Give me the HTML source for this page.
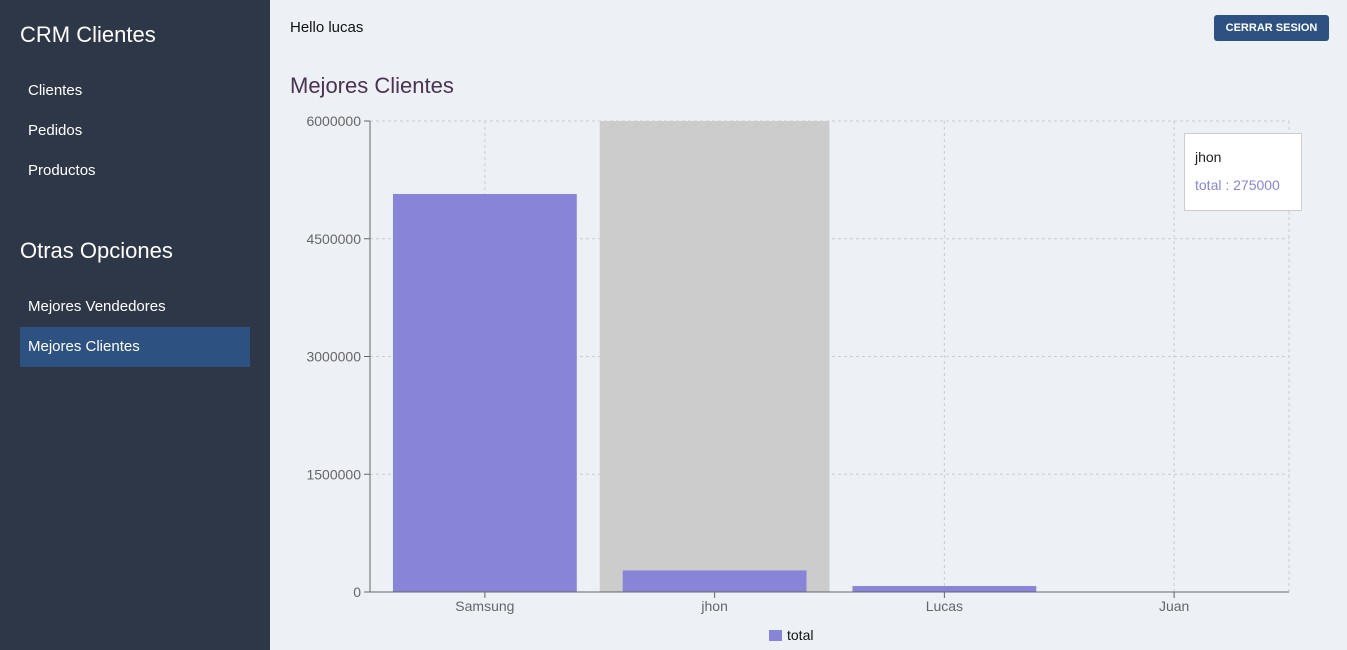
<!DOCTYPE html>
<html><head><meta charset="utf-8"><style>
body{margin:0;width:1347px;height:650px;overflow:hidden;font-family:"Liberation Sans",sans-serif;background:#edf1f6}
.side{position:absolute;left:0;top:0;width:270px;height:650px;background:#2e3748;color:#fff}
.side h2{font-weight:normal;font-size:22px;margin:0;position:absolute;left:20px}
.side a{position:absolute;left:20px;width:230px;height:40px;line-height:40px;padding-left:8px;box-sizing:border-box;font-size:15px;color:#fff}
.btn{position:absolute;left:1214px;top:15px;width:115px;height:26px;background:#2d5282;color:#fff;border-radius:3px;font-size:11px;font-weight:bold;text-align:center;line-height:26px}
</style></head><body>
<div class="side">
<h2 style="top:22px">CRM Clientes</h2>
<a style="top:71px">Clientes</a>
<a style="top:111px">Pedidos</a>
<a style="top:151px">Productos</a>
<h2 style="top:238px">Otras Opciones</h2>
<a style="top:287px">Mejores Vendedores</a>
<a style="top:327px;background:#2d5282">Mejores Clientes</a>
</div>
<div style="position:absolute;left:290px;top:19px;font-size:15px;color:#111">Hello lucas</div>
<div class="btn">CERRAR SESION</div>
<div style="position:absolute;left:290px;top:73px;font-size:22px;color:#4a3350">Mejores Clientes</div>
<svg id="c" width="1347" height="650" style="position:absolute;left:0;top:0"></svg>
<div style="position:absolute;left:1184px;top:133px;width:116px;height:76px;background:#fff;border:1px solid #ccc;font-size:14px">
<div style="position:absolute;left:10px;top:15px;color:#222">jhon</div>
<div style="position:absolute;left:10px;top:43px;color:#8884d8">total : 275000</div></div>
<script>
const categories=["Samsung","jhon","Lucas","Juan"];
const totals=[5070000,275000,76000,0];
const yTicks=[0,1500000,3000000,4500000,6000000];
const X0=370,X1=1289,Y0=592,Y1=121,YMAX=6000000;
const svg=document.getElementById('c'),NS='http://www.w3.org/2000/svg';
const bw=(X1-X0)/categories.length;
const y=v=>Y0-(v/YMAX)*(Y0-Y1);
const x=i=>X0+i*bw;
function mk(t,a){const e=document.createElementNS(NS,t);for(const k in a)e.setAttribute(k,a[k]);svg.appendChild(e);return e;}
yTicks.forEach(v=>{
 const g=mk('line',{x1:X0,x2:X1,y1:y(v),y2:y(v),stroke:'#ccc','stroke-dasharray':'3 3'});
 
 
 mk('line',{x1:X0-6,x2:X0,y1:y(v),y2:y(v),stroke:'#666'});
 const t=mk('text',{x:X0-9,y:y(v)+5,'text-anchor':'end','font-size':14,fill:'#666'});t.textContent=v;
 
 
});
categories.forEach((c,i)=>{
 const gx=mk('line',{x1:x(i)+bw/2,x2:x(i)+bw/2,y1:Y1,y2:Y0,stroke:'#ccc','stroke-dasharray':'3 3'});
 
 
});
mk('line',{x1:X1,x2:X1,y1:Y1,y2:Y0,stroke:'#ccc','stroke-dasharray':'3 3'});
const cur=mk('rect',{x:x(1),y:Y1,width:bw,height:Y0-Y1,fill:'#ccc'});


categories.forEach((c,i)=>{
 const h=Y0-y(totals[i]);
 const r=mk('rect',{x:x(i)+bw*0.1,y:y(totals[i]),width:bw*0.8,height:h,fill:'#8884d8'});
 
 
 mk('line',{x1:x(i)+bw/2,x2:x(i)+bw/2,y1:Y0,y2:Y0+6,stroke:'#666'});
 const t=mk('text',{x:x(i)+bw/2,y:Y0+19,'text-anchor':'middle','font-size':14,fill:'#666'});t.textContent=c;
 
 
});
mk('line',{x1:X0,x2:X0,y1:Y1,y2:Y0,stroke:'#666'});
mk('line',{x1:X0,x2:X1,y1:Y0,y2:Y0,stroke:'#666'});
const lr=mk('rect',{x:769,y:630,width:13,height:11,fill:'#8884d8'});


const lt=mk('text',{x:787,y:640,'font-size':14,fill:'#111'});lt.textContent='total';


</script>
</body></html>
